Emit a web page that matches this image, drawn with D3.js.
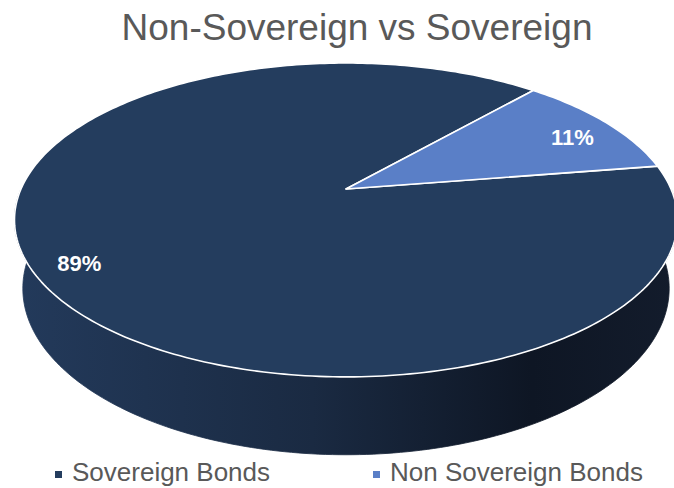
<!DOCTYPE html>
<html>
<head>
<meta charset="utf-8">
<script src="https://cdn.jsdelivr.net/npm/d3@7"></script>
<style>
  html, body { margin: 0; padding: 0; background: #ffffff; }
  svg { display: block; font-family: "Liberation Sans", Arial, sans-serif; }
</style>
</head>
<body>
<svg id="chart" width="674" height="488"></svg>
<script>
// Chart data
const title = "Non-Sovereign vs Sovereign";
const categories = ["Sovereign Bonds", "Non Sovereign Bonds"];
const values = [89, 11];
const valueLabels = ["89%", "11%"];

// Palette
const topColors = ["#243d5e", "#5a7fc7"];
const wallStops = [
  [["0%", "#233a5b"], ["45%", "#1a2a42"], ["78%", "#0e1624"], ["100%", "#131c2c"]],
  [["0%", "#3d5a94"], ["50%", "#2f4673"], ["100%", "#22335a"]]
];

const W = 674, H = 488;
const svg = d3.select("#chart");

// Perspective view of a flat cylinder (unit radius disk, thickness depth)
const view = {
  cx: 346, cy: 189,      // screen position of the disk centre
  scale: 325,            // screen pixels per unit radius
  tilt: 27.65 * Math.PI / 180,
  dist: 4.49,            // camera distance in radii
  depth: 0.24            // thickness in radii
};
const sinT = Math.sin(view.tilt), cosT = Math.cos(view.tilt);

function project(X, Y, Z) {
  const v = -Y * cosT + Z * sinT;
  const w = Y * sinT + Z * cosT;
  const f = view.dist / (view.dist - w);
  return [view.cx + view.scale * f * X, view.cy + view.scale * f * v];
}
// d3 pie angle (0 = 12 o'clock, clockwise) -> point on disk rim
function rim(theta, r, Y) {
  return project(r * Math.sin(theta), Y, -r * Math.cos(theta));
}
function sampleAngles(a0, a1) {
  const n = Math.max(2, Math.ceil(Math.abs(a1 - a0) / (Math.PI / 180)));
  return d3.range(n + 1).map(i => a0 + (a1 - a0) * i / n);
}

const firstSliceAngle = 81 * Math.PI / 180;
const pie = d3.pie().sort(null).value(d => d)
  .startAngle(firstSliceAngle).endAngle(firstSliceAngle + 2 * Math.PI);
const arcs = pie(values);

const polygon = d3.line().curve(d3.curveLinearClosed);

// Gradients for the side walls
const defs = svg.append("defs");
wallStops.forEach((stops, i) => {
  const g = defs.append("linearGradient")
    .attr("id", "wall" + i)
    .attr("gradientUnits", "userSpaceOnUse")
    .attr("x1", view.cx - view.scale * 1.02).attr("y1", 0)
    .attr("x2", view.cx + view.scale * 1.02).attr("y2", 0);
  stops.forEach(([o, c]) => g.append("stop").attr("offset", o).attr("stop-color", c));
});

// Side walls: front half of the cylinder, split by slice
const front = [Math.PI / 2, 3 * Math.PI / 2];
const wallG = svg.append("g");
arcs.forEach((a, i) => {
  for (let k = -1; k <= 1; k++) {
    const s = Math.max(a.startAngle + k * 2 * Math.PI, front[0]);
    const e = Math.min(a.endAngle + k * 2 * Math.PI, front[1]);
    if (e <= s) continue;
    const ang = sampleAngles(s, e);
    const pts = ang.map(t => rim(t, 1, 0))
      .concat(ang.slice().reverse().map(t => rim(t, 1, -view.depth)));
    wallG.append("path")
      .attr("d", polygon(pts))
      .attr("fill", `url(#wall${i})`)
      .attr("stroke", `url(#wall${i})`)
      .attr("stroke-width", 0.8);
  }
});

// Top faces
const topG = svg.append("g");
arcs.forEach((a, i) => {
  const pts = [project(0, 0, 0)].concat(sampleAngles(a.startAngle, a.endAngle).map(t => rim(t, 1, 0)));
  topG.append("path")
    .attr("d", polygon(pts))
    .attr("fill", topColors[i])
    .attr("stroke", "#ffffff")
    .attr("stroke-width", 1.6)
    .attr("stroke-linejoin", "round");
});

// Value labels
const labelRadius = 0.86;
svg.append("g").selectAll("text")
  .data(arcs)
  .join("text")
  .attr("x", d => rim((d.startAngle + d.endAngle) / 2, labelRadius, 0)[0])
  .attr("y", d => rim((d.startAngle + d.endAngle) / 2, labelRadius, 0)[1] + 14)
  .attr("text-anchor", "middle")
  .attr("fill", "#ffffff")
  .attr("font-weight", "bold")
  .attr("font-size", 22)
  .text((d, i) => valueLabels[i]);

// Title
svg.append("text")
  .attr("x", 357).attr("y", 40)
  .attr("text-anchor", "middle")
  .attr("fill", "#595959")
  .attr("font-size", 37)
  .text(title);

// Legend
const legendX = [55, 373];
const legend = svg.append("g").selectAll("g")
  .data(categories)
  .join("g")
  .attr("transform", (d, i) => `translate(${legendX[i]},481)`);
legend.append("rect")
  .attr("x", 0).attr("y", -10)
  .attr("width", 7).attr("height", 7)
  .attr("fill", (d, i) => topColors[i]);
legend.append("text")
  .attr("x", 17).attr("y", 0)
  .attr("fill", "#595959")
  .attr("font-size", 26)
  .text(d => d);
</script>
</body>
</html>
